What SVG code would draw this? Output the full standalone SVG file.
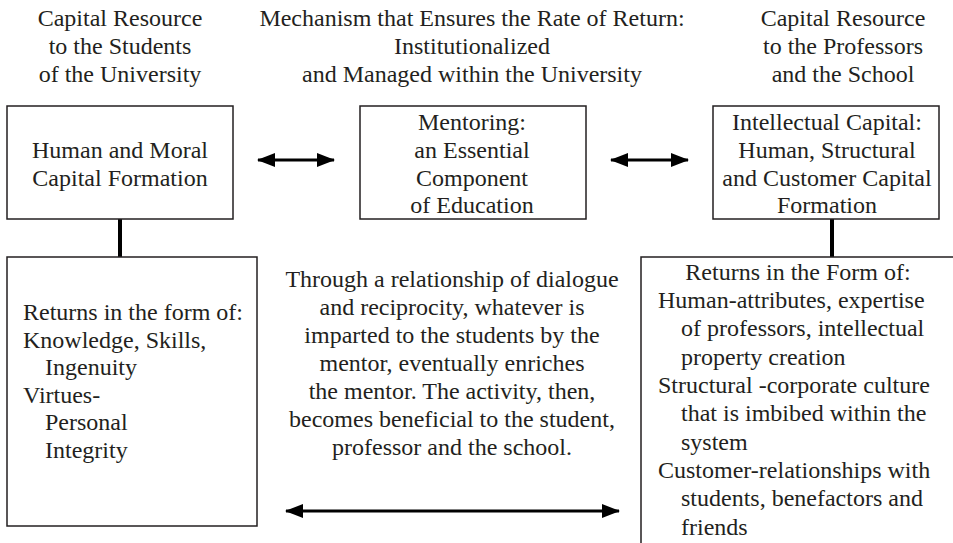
<svg xmlns="http://www.w3.org/2000/svg" width="953" height="543" viewBox="0 0 953 543">
<style>
.t{font-family:'Liberation Serif','DejaVu Serif',serif;font-size:24px;fill:#231f20}
.c{text-anchor:middle}
.box{fill:#fff;stroke:#231f20;stroke-width:1.5}
.ln{stroke:#000;stroke-width:3;fill:none}
.stem{stroke:#000;stroke-width:4;fill:none}
</style>
<defs>
<marker id="ah" viewBox="0 0 18 14" refX="17" refY="7" markerWidth="18" markerHeight="14" markerUnits="userSpaceOnUse" orient="auto-start-reverse">
<path d="M0,0 L18,7 L0,14 Z" fill="#000"/>
</marker>
</defs>
<g id="headers" class="t">
<text class="c" x="120" y="26">Capital Resource</text>
<text class="c" x="120" y="54">to the Students</text>
<text class="c" x="120" y="82">of the University</text>
<text class="c" x="472" y="26">Mechanism that Ensures the Rate of Return:</text>
<text class="c" x="472" y="54">Institutionalized</text>
<text class="c" x="472" y="82">and Managed within the University</text>
<text class="c" x="843" y="26">Capital Resource</text>
<text class="c" x="843" y="54">to the Professors</text>
<text class="c" x="843" y="82">and the School</text>
</g>
<g id="connectors">
<line class="ln" x1="258" y1="160" x2="334" y2="160" marker-start="url(#ah)" marker-end="url(#ah)"/>
<line class="ln" x1="611" y1="160" x2="688" y2="160" marker-start="url(#ah)" marker-end="url(#ah)"/>
<line class="ln" x1="286" y1="511" x2="619" y2="511" marker-start="url(#ah)" marker-end="url(#ah)"/>
<line class="stem" x1="120" y1="219" x2="120" y2="257"/>
<line class="stem" x1="832" y1="219" x2="832" y2="257"/>
</g>
<g id="human-moral" class="t">
<rect class="box" x="7" y="106" width="226" height="113"/>
<text class="c" x="120" y="158">Human and Moral</text>
<text class="c" x="120" y="186">Capital Formation</text>
</g>
<g id="mentoring" class="t">
<rect class="box" x="360" y="106" width="226" height="113"/>
<text class="c" x="472" y="130">Mentoring:</text>
<text class="c" x="472" y="158">an Essential</text>
<text class="c" x="472" y="186">Component</text>
<text class="c" x="472" y="213">of Education</text>
</g>
<g id="intellectual" class="t">
<rect class="box" x="713" y="106" width="226" height="113"/>
<text class="c" x="827" y="130">Intellectual Capital:</text>
<text class="c" x="827" y="158">Human, Structural</text>
<text class="c" x="827" y="186">and Customer Capital</text>
<text class="c" x="827" y="213">Formation</text>
</g>
<g id="returns-left" class="t">
<rect class="box" x="7" y="257" width="250" height="269"/>
<text x="23" y="320">Returns in the form of:</text>
<text x="23" y="348">Knowledge, Skills,</text>
<text x="45" y="375">Ingenuity</text>
<text x="23" y="403">Virtues-</text>
<text x="45" y="430">Personal</text>
<text x="45" y="458">Integrity</text>
</g>
<g id="dialogue" class="t">
<text class="c" x="452" y="287">Through a relationship of dialogue</text>
<text class="c" x="452" y="315">and reciprocity, whatever is</text>
<text class="c" x="452" y="343">imparted to the students by the</text>
<text class="c" x="452" y="371">mentor, eventually enriches</text>
<text class="c" x="452" y="399">the mentor. The activity, then,</text>
<text class="c" x="452" y="427">becomes beneficial to the student,</text>
<text class="c" x="452" y="455">professor and the school.</text>
</g>
<g id="returns-right" class="t">
<rect class="box" x="641" y="257" width="330" height="300"/>
<text class="c" x="798" y="280">Returns in the Form of:</text>
<text x="658" y="308">Human-attributes, expertise</text>
<text x="681" y="336">of professors, intellectual</text>
<text x="681" y="365">property creation</text>
<text x="658" y="393">Structural -corporate culture</text>
<text x="681" y="421">that is imbibed within the</text>
<text x="681" y="450">system</text>
<text x="658" y="478">Customer-relationships with</text>
<text x="681" y="506">students, benefactors and</text>
<text x="681" y="535">friends</text>
</g>
</svg>
